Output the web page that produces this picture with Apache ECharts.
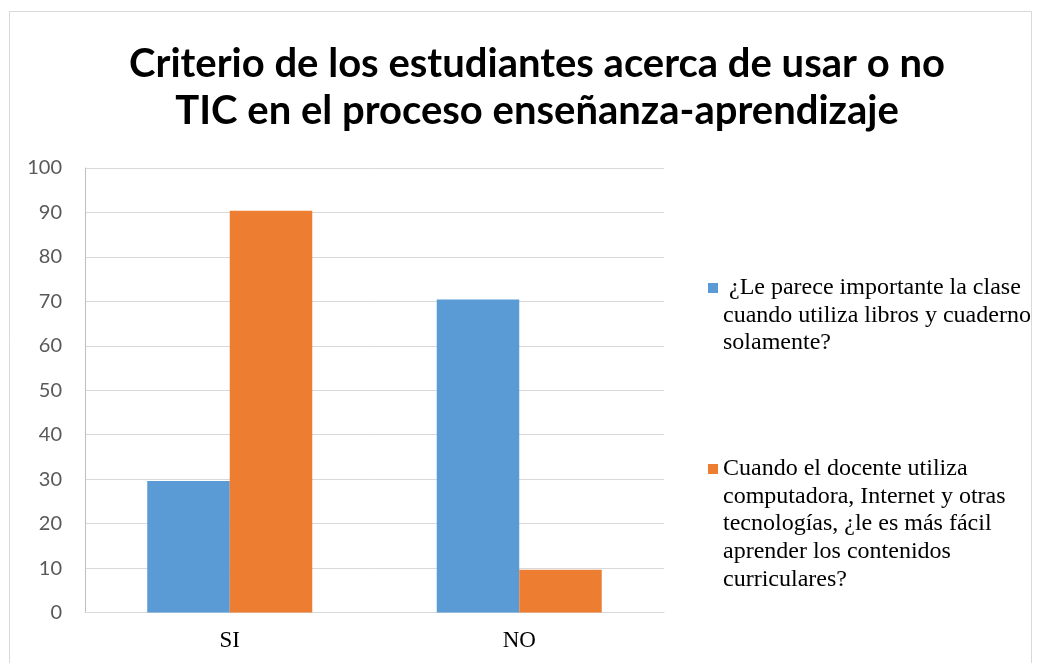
<!DOCTYPE html>
<html>
<head>
<meta charset="utf-8">
<script src="https://cdn.jsdelivr.net/npm/echarts@6/dist/echarts.min.js"></script>
<style>
html, body { margin: 0; padding: 0; background: #fff; }
#container1 { width: 1042px; height: 663px; }
</style>
</head>
<body>
<div id="container1"></div>
<script>
var titleText = 'Criterio de los estudiantes acerca de usar o no\nTIC en el proceso enseñanza-aprendizaje';
var categories = ['SI', 'NO'];
var seriesNames = [
    '¿Le parece importante la clase cuando utiliza libros y cuaderno solamente?',
    'Cuando el docente utiliza computadora, Internet y otras tecnologías, ¿le es más fácil aprender los contenidos curriculares?'
];
// legend text as it wraps in the picture
var legendLines = [
    [' ¿Le parece importante la clase', 'cuando utiliza libros y cuaderno', 'solamente?'],
    ['Cuando el docente utiliza', 'computadora, Internet y otras', 'tecnologías, ¿le es más fácil', 'aprender los contenidos', 'curriculares?']
];
var valuesLibros = [29.6, 70.4];
var valuesTic = [90.4, 9.6];
var yTicks = { min: 0, max: 100, interval: 10 };
var colors = ['#5B9BD5', '#ED7D31'];

var lineH = 27.6;

var dom1 = document.getElementById('container1');
var myChart1 = echarts.init(dom1, null, { renderer: 'canvas' });

// legend text is centred on the icon, so pad with empty lines above
// to keep the square next to the first line
function legendFor(i, iconCenter) {
    var n = legendLines[i].length;
    var blockH = (2 * n - 1) * lineH;
    return {
        orient: 'vertical',
        left: 708,
        top: iconCenter - blockH / 2,
        padding: 0,
        itemWidth: 10,
        itemHeight: 10,
        icon: 'rect',
        selectedMode: false,
        data: [seriesNames[i]],
        formatter: function () {
            var pre = '';
            for (var k = 0; k < n - 1; k++) pre += ' \n';
            return pre + legendLines[i].join('\n');
        },
        textStyle: {
            fontFamily: '"Liberation Serif", "DejaVu Serif", serif',
            fontSize: 24,
            lineHeight: lineH,
            color: '#000'
        }
    };
}

var option1 = {
    animation: false,
    color: colors,
    title: {
        text: titleText,
        left: 532,
        textAlign: 'center',
        top: 36,
        textStyle: {
            fontFamily: 'Lato, "Open Sans", sans-serif',
            fontWeight: 'bold',
            fontSize: 40,
            lineHeight: 46.5,
            color: '#000'
        }
    },
    legend: [legendFor(0, 288), legendFor(1, 469)],
    grid: {
        left: 85,
        right: 378,
        top: 168,
        bottom: 50.5,
        containLabel: false
    },
    xAxis: {
        type: 'category',
        data: categories,
        axisLine: { lineStyle: { color: '#d9d9d9', width: 1 } },
        axisTick: { show: false },
        axisLabel: {
            margin: 17,
            fontFamily: '"Liberation Serif", serif',
            fontSize: 23,
            color: '#000'
        }
    },
    yAxis: {
        type: 'value',
        min: yTicks.min,
        max: yTicks.max,
        interval: yTicks.interval,
        axisLine: { show: true, lineStyle: { color: '#bfbfbf' } },
        axisTick: { show: false },
        splitLine: { lineStyle: { color: '#d9d9d9', width: 1 } },
        axisLabel: {
            margin: 23,
            fontFamily: 'Lato, sans-serif',
            fontSize: 20,
            color: '#595959'
        }
    },
    graphic: [{
        type: 'rect',
        silent: true,
        shape: { x: 9.5, y: 11.5, width: 1022, height: 700 },
        style: { fill: 'none', stroke: '#d9d9d9', lineWidth: 1 }
    }],
    series: [
        {
            name: seriesNames[0],
            type: 'bar',
            data: valuesLibros,
            barGap: '0%',
            barCategoryGap: '43%'
        },
        {
            name: seriesNames[1],
            type: 'bar',
            data: valuesTic,
            barGap: '0%',
            barCategoryGap: '43%'
        }
    ]
};
myChart1.setOption(option1);
</script>
</body>
</html>
